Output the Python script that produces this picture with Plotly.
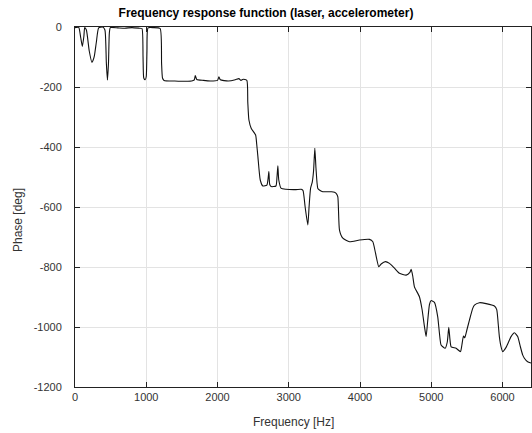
import plotly.graph_objects as go

freq_hz = [0, 52, 80, 103, 125, 136, 160, 200, 238, 255, 272, 300, 332, 388, 420, 440, 455, 470, 482, 496,
           600, 700, 800, 900, 940, 955, 965, 985, 1000, 1010, 1025, 1100, 1195, 1215, 1228, 1250,
           1400, 1550, 1650, 1675, 1688, 1710, 1800, 1900, 2000, 2020, 2040, 2150, 2250, 2300, 2330, 2360, 2412,
           2425, 2441, 2474, 2535, 2550, 2567, 2600, 2637, 2693, 2710, 2721, 2733, 2754, 2820, 2835, 2847, 2860,
           2894, 2960, 3100, 3175, 3200, 3230, 3268, 3285, 3306, 3330, 3348, 3366, 3382, 3408, 3440, 3478,
           3600, 3642, 3670, 3689, 3712, 3759, 3853, 3993, 4133, 4180, 4218, 4264, 4297, 4357, 4414, 4484,
           4554, 4648, 4700, 4718, 4740, 4764, 4834, 4870, 4905, 4928, 4950, 4975, 4998, 5045, 5091, 5115,
           5138, 5195, 5225, 5246, 5262, 5279, 5349, 5410, 5430, 5452, 5470, 5500, 5536, 5582, 5606, 5676,
           5770, 5886, 5919, 5940, 5956, 5980, 6003, 6050, 6120, 6167, 6213, 6250, 6283, 6307, 6353, 6400]
phase_deg = [-2, -1, -35, -65, -30, -2, -10, -80, -118, -110, -96, -50, -3, 0, -10, -120, -177, -120, -20, -2,
             -3, -4, -2, -4, -5, -100, -170, -176, -165, -80, -3, -2, -5, -120, -170, -178,
             -180, -181, -179, -176, -162, -175, -178, -180, -178, -166, -176, -180, -176, -172, -178, -174, -178,
             -250, -310, -338, -360, -390, -432, -510, -530, -527, -505, -482, -525, -532, -530, -500, -463, -510,
             -538, -541, -542, -541, -545, -600, -660, -600, -538, -517, -480, -404, -470, -538, -545, -549,
             -549, -551, -556, -566, -677, -704, -716, -710, -708, -716, -754, -799, -790, -782, -788, -804,
             -821, -827, -818, -808, -830, -866, -899, -940, -999, -1032, -980, -925, -912, -918, -966, -1021,
             -1060, -1071, -1050, -1001, -1040, -1066, -1071, -1082, -1060, -1030, -1036, -1010, -977, -938, -927, -919,
             -922, -930, -942, -990, -1032, -1066, -1082, -1068, -1032, -1019, -1032, -1065, -1093, -1104, -1116, -1120]

x_ticks = [0, 1000, 2000, 3000, 4000, 5000, 6000]
y_ticks = [-1200, -1000, -800, -600, -400, -200, 0]

fig = go.Figure()
fig.add_trace(go.Scatter(x=freq_hz, y=phase_deg, mode="lines",
                         line=dict(color="#111111", width=1.1, shape="spline", smoothing=0.5),
                         hoverinfo="skip", showlegend=False))

axis_common = dict(showgrid=True, gridcolor="#e3e3e3", gridwidth=1, zeroline=False,
                   showline=True, linecolor="#222222", linewidth=1, mirror="ticks",
                   ticks="inside", ticklen=5, tickcolor="#222222",
                   tickfont=dict(family="Liberation Sans, Arial, sans-serif", size=11, color="#333333"))

fig.update_xaxes(range=[0, 6400], tickvals=x_ticks, ticktext=[str(v) for v in x_ticks], **axis_common)
fig.update_yaxes(range=[-1200, 0], tickvals=y_ticks, ticktext=[str(v) for v in y_ticks],
                 ticklabelstandoff=10, **axis_common)

fig.update_layout(
    width=532, height=433,
    margin=dict(l=75, r=1, t=27, b=46),
    paper_bgcolor="white", plot_bgcolor="white",
    title=dict(text="<b>Frequency response function (laser, accelerometer)</b>",
               x=0.5, xref="container", xanchor="center",
               y=1 - 13 / 433, yref="container", yanchor="middle",
               font=dict(family="Liberation Sans, Arial, sans-serif", size=12, color="#000000")),
    annotations=[
        dict(text="Frequency [Hz]", xref="paper", yref="paper", x=(293 - 75) / 456, y=(387 - 422) / 360,
             xanchor="center", yanchor="middle", showarrow=False,
             font=dict(family="Liberation Sans, Arial, sans-serif", size=12, color="#333333")),
        dict(text="Phase [deg]", xref="paper", yref="paper", x=(18 - 75) / 456, y=(387 - 220) / 360,
             xanchor="center", yanchor="middle", textangle=-90, showarrow=False,
             font=dict(family="Liberation Sans, Arial, sans-serif", size=12, color="#333333")),
    ],
)

fig.write_html("out.html")
